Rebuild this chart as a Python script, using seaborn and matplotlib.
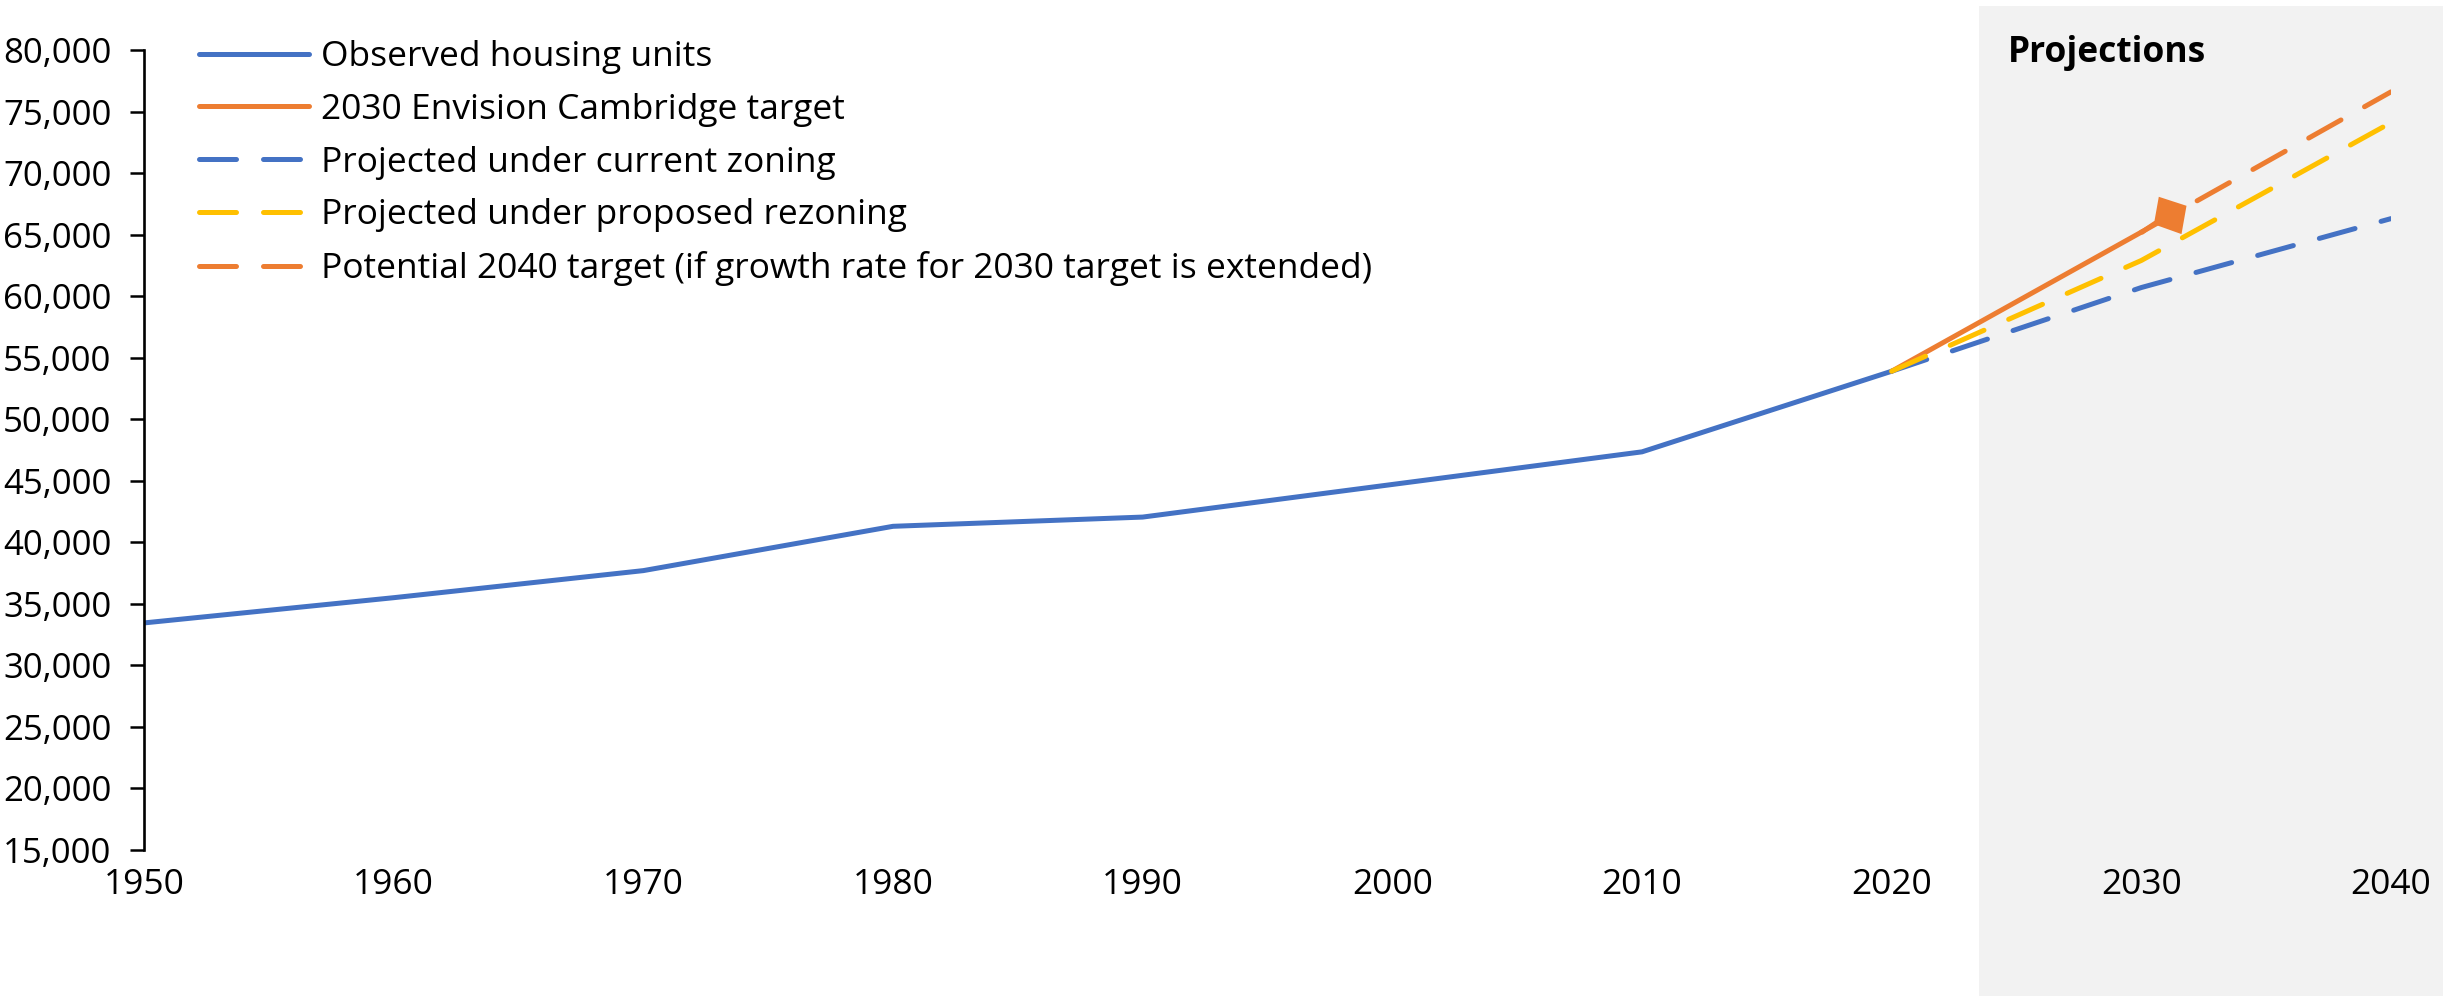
import numpy as np
import pandas as pd
import matplotlib
matplotlib.use("Agg")
import matplotlib.pyplot as plt
import matplotlib.transforms as mtransforms
from matplotlib.patches import Rectangle
from matplotlib.path import Path
from matplotlib.ticker import FuncFormatter
import seaborn as sns

# ---------------- data ----------------
obs_years = [1950, 1960, 1970, 1980, 1990, 2000, 2010, 2020]
obs_units = [33450, 35500, 37700, 41300, 42050, 44700, 47350, 53900]

target_years = [2020, 2030]
target_units = [53900, 65200]

proj_years = [2020, 2030, 2040]
current_zoning = [53900, 60700, 66300]
proposed_rezoning = [53900, 62900, 74100]

potential_years = [2030, 2040]
potential_units = [65200, 76600]

x_ticks = [1950, 1960, 1970, 1980, 1990, 2000, 2010, 2020, 2030, 2040]
y_ticks = list(range(15000, 80001, 5000))

labels = [
    "Observed housing units",
    "2030 Envision Cambridge target",
    "Projected under current zoning",
    "Projected under proposed rezoning",
    "Potential 2040 target (if growth rate for 2030 target is extended)",
]

BLUE = "#4472C4"
ORANGE = "#ED7D31"
YELLOW = "#FFC000"
GREY = "#F2F2F2"

# ---------------- style ----------------
sns.set_theme(style="white")
plt.rcParams["font.family"] = ["Open Sans", "DejaVu Sans"]
plt.rcParams["lines.scale_dashes"] = True

FS = 25.5
TICK_FS = 25
W, H = 2443, 996
fig = plt.figure(figsize=(W / 100, H / 100), dpi=100)
ax = fig.add_axes([144 / W, 1 - 850 / H, (2391 - 144) / W, 800 / H])
ax.set_facecolor("none")

LW = 3.6  # ~5 px
dash = (0, (7.4, 5.4))
common = dict(ax=ax, linewidth=LW, solid_capstyle="round", dash_capstyle="round")

sns.lineplot(x=obs_years, y=obs_units, color=BLUE, label=labels[0], **common)

# square "arrow" end marker for the 2030 target (sits just ahead of the point)
sq = [(-1.3, 2.2), (13, 11.7), (17.3, 35.7), (45, 26.7), (40, -1.6), (14.5, 7.5), (1.3, -2.2), (-1.3, 2.2)]
marker_path = Path(sq, closed=True)
sns.lineplot(x=target_years, y=target_units, color=ORANGE, label=labels[1],
             marker=marker_path, markevery=[1], markersize=64.8,
             markeredgewidth=0, markerfacecolor=ORANGE, **common)
sns.lineplot(x=proj_years, y=current_zoning, color=BLUE, label=labels[2],
             linestyle=dash, **common)
sns.lineplot(x=proj_years, y=proposed_rezoning, color=YELLOW, label=labels[3],
             linestyle=dash, **common)
sns.lineplot(x=potential_years, y=potential_units, color=ORANGE, label=labels[4],
             linestyle=dash, **common)

ax.set_xlim(1950, 2040)
ax.set_ylim(15000, 80000)
ax.set_xticks(x_ticks)
ax.set_xticklabels([str(v) for v in x_ticks])
ax.set_yticks(y_ticks)
ax.yaxis.set_major_formatter(FuncFormatter(lambda v, p: f"{int(v):,}"))
ax.set_xlabel("")
ax.set_ylabel("")

for s in ["top", "right", "bottom"]:
    ax.spines[s].set_visible(False)
ax.spines["left"].set_color("black")
ax.spines["left"].set_linewidth(1.9)
ax.tick_params(axis="y", which="major", direction="out", length=10, width=1.8,
               color="black", pad=13.5, labelsize=TICK_FS, labelcolor="black", left=True)
ax.tick_params(axis="x", which="major", length=0, pad=13, labelsize=FS, labelcolor="black")
ax.grid(False)

# shaded projection region (extends beyond the axes, to the figure edge)
trans = mtransforms.blended_transform_factory(ax.transData, fig.transFigure)
rect = Rectangle((2023.5, 0), 40, 1 - 6 / H, transform=trans, facecolor=GREY,
                 edgecolor="none", zorder=-10)
fig.add_artist(rect)

fig.text(2008 / W, 1 - 62 / H, "Projections", fontsize=FS, fontweight="bold",
         ha="left", va="baseline", color="black")

leg = ax.legend(loc="upper left", bbox_to_anchor=(199 / W, 1 - 40 / H),
                bbox_transform=fig.transFigure, frameon=False, fontsize=FS,
                handlelength=3.1, handletextpad=0.35, labelspacing=0.53,
                borderpad=0, borderaxespad=0)
for h in leg.legend_handles:
    h.set_marker("")
for t in leg.get_texts():
    t.set_color("black")

fig.savefig("out.png", dpi=100)
